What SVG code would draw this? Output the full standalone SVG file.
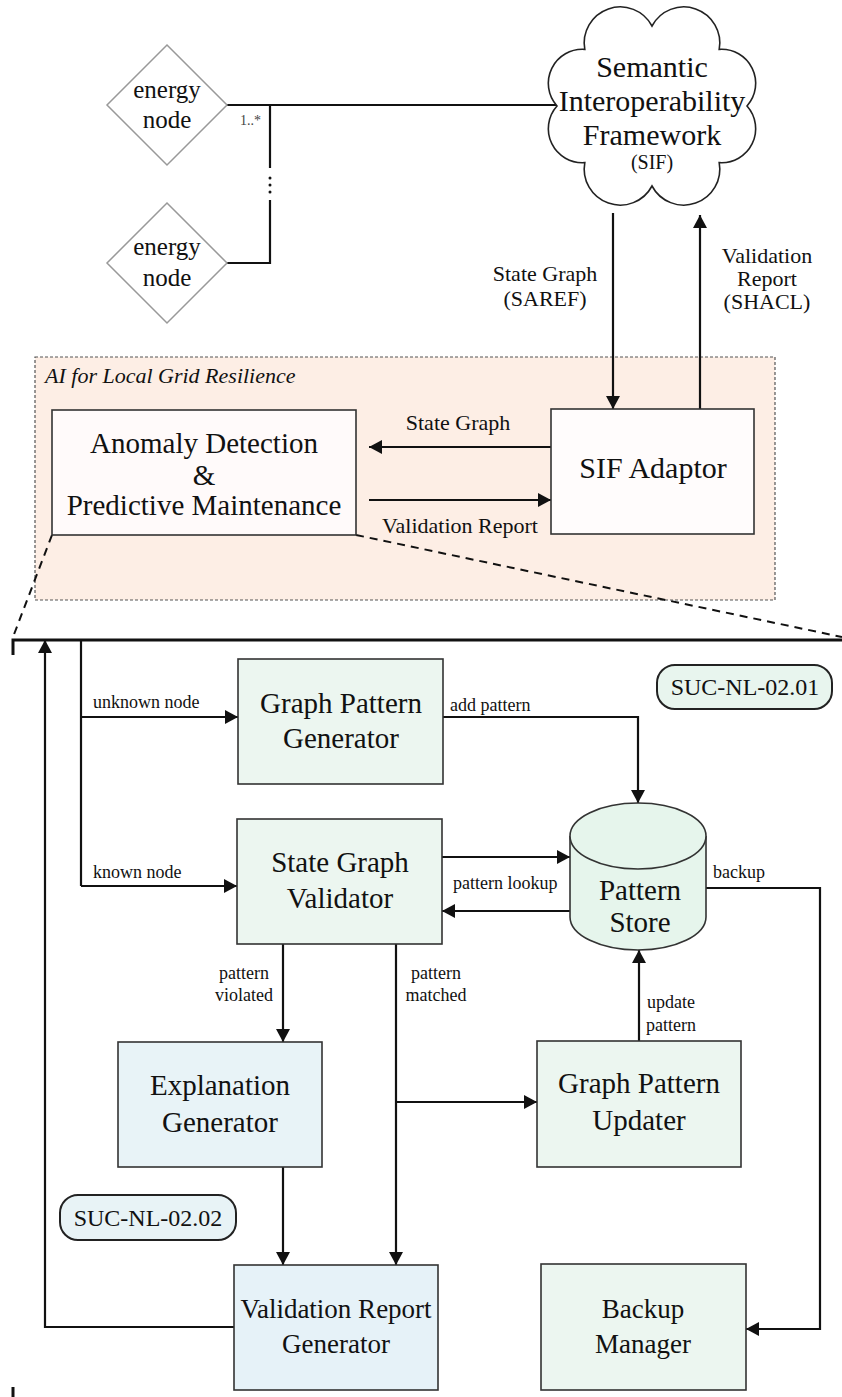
<svg xmlns="http://www.w3.org/2000/svg" width="842" height="1397" viewBox="0 0 842 1397">
<style>
text{font-family:"Liberation Serif","Times New Roman",serif;fill:#111}
.n{font-size:29px;text-anchor:middle}
.m{font-size:27px;text-anchor:middle}
.l{font-size:18px}
.lc{font-size:18px;text-anchor:middle}
.u{font-size:22px;text-anchor:middle}
.c{stroke:#111;stroke-width:2.2;fill:none}
.box{stroke:#333;stroke-width:1.6}
.g{fill:#ecf6f0}
.b{fill:#e8f3f7}
.dz{stroke:#111;stroke-width:2;stroke-dasharray:8 6;fill:none}
</style>
<defs>
<marker id="ah" markerUnits="userSpaceOnUse" markerWidth="14" markerHeight="14" refX="13" refY="7" orient="auto">
<path d="M0,0 L13,7 L0,14 z" fill="#111"/>
</marker>
</defs>

<!-- container -->
<g id="container">
<rect x="35" y="357" width="740" height="243" fill="#fdeee5" stroke="#555" stroke-width="1.2" stroke-dasharray="3 2"/>
<text x="45" y="383" font-size="22" font-style="italic">AI for Local Grid Resilience</text>
</g>

<g id="connectors">
<!-- energy nodes to SIF -->
<path class="c" d="M227,105 H557"/>
<path class="c" d="M270,105 V168"/>
<circle cx="270" cy="178" r="1.5" fill="#111"/>
<circle cx="270" cy="185" r="1.5" fill="#111"/>
<circle cx="270" cy="192" r="1.5" fill="#111"/>
<path class="c" d="M270,200 V263 H227"/>
<text x="240" y="125" font-size="14" style="fill:#444">1..*</text>
<!-- SIF arrows -->
<path class="c" d="M613,213 V409" marker-end="url(#ah)"/>
<path class="c" d="M700,409 V215" marker-end="url(#ah)"/>
<text class="u" x="545" y="281">State Graph</text>
<text class="u" x="545" y="306">(SAREF)</text>
<text class="u" x="767" y="263">Validation</text>
<text class="u" x="767" y="286">Report</text>
<text class="u" x="767" y="309">(SHACL)</text>
<!-- AD <-> SIF -->
<path class="c" d="M551,447 H369" marker-end="url(#ah)"/>
<path class="c" d="M369,500 H551" marker-end="url(#ah)"/>
<text class="u" x="458" y="430">State Graph</text>
<text class="u" x="460" y="533">Validation Report</text>
<!-- zoom lines -->
<path class="dz" d="M52,535 L13,637"/>
<path class="dz" d="M356,535 L842,637"/>
<!-- panel border -->
<path d="M13,655 V640 H842" stroke="#111" stroke-width="3" fill="none"/>
<path d="M13,1387 V1397" stroke="#111" stroke-width="3" fill="none"/>
<!-- lower flows -->
<path class="c" d="M234,1327 H45 V640" marker-end="url(#ah)"/>
<path class="c" d="M81,640 V886"/>
<path class="c" d="M81,717 H238" marker-end="url(#ah)"/>
<path class="c" d="M81,886 H237" marker-end="url(#ah)"/>
<text class="l" x="93" y="708">unknown node</text>
<text class="l" x="93" y="878">known node</text>
<path class="c" d="M443,717 H638 V803" marker-end="url(#ah)"/>
<text class="l" x="450" y="711">add pattern</text>
<path class="c" d="M442,857 H570" marker-end="url(#ah)"/>
<path class="c" d="M570,911 H442" marker-end="url(#ah)"/>
<text class="l" x="453" y="889">pattern lookup</text>
<path class="c" d="M706,888 H820 V1329 H746" marker-end="url(#ah)"/>
<text class="l" x="713" y="878">backup</text>
<path class="c" d="M283,944 V1042" marker-end="url(#ah)"/>
<text class="lc" x="244" y="979">pattern</text>
<text class="lc" x="244" y="1001">violated</text>
<path class="c" d="M396,944 V1265" marker-end="url(#ah)"/>
<path class="c" d="M396,1102 H537" marker-end="url(#ah)"/>
<text class="lc" x="436" y="979">pattern</text>
<text class="lc" x="436" y="1001">matched</text>
<path class="c" d="M639,1041 V950" marker-end="url(#ah)"/>
<text class="lc" x="671" y="1008">update</text>
<text class="lc" x="671" y="1031">pattern</text>
<path class="c" d="M283,1167 V1265" marker-end="url(#ah)"/>
</g>

<g id="energy-node-1">
<path d="M167,45 L227,105 L167,165 L107,105 Z" fill="#fff" stroke="#999" stroke-width="1.5"/>
<text x="167" y="98" font-size="25" text-anchor="middle">energy</text>
<text x="167" y="128" font-size="25" text-anchor="middle">node</text>
</g>
<g id="energy-node-2">
<path d="M167,203 L227,263 L167,323 L107,263 Z" fill="#fff" stroke="#999" stroke-width="1.5"/>
<text x="167" y="255" font-size="25" text-anchor="middle">energy</text>
<text x="167" y="286" font-size="25" text-anchor="middle">node</text>
</g>

<g id="sif">
<path d="M557,106 A34,34 0 0 1 584.8,49.4 A36,36 0 0 1 652,26 A36,36 0 0 1 719.2,49.4 A34,34 0 0 1 747,106 A34,34 0 0 1 719.2,162.6 A36,36 0 0 1 652,186 A36,36 0 0 1 584.8,162.6 A34,34 0 0 1 557,106 Z" fill="#fff" stroke="#222" stroke-width="1.6"/>
<text x="652" y="77" font-size="30" text-anchor="middle">Semantic</text>
<text x="652" y="111" font-size="30" text-anchor="middle">Interoperability</text>
<text x="652" y="145" font-size="30" text-anchor="middle">Framework</text>
<text x="652" y="169" font-size="20" text-anchor="middle">(SIF)</text>
</g>

<g id="anomaly-detection">
<rect class="box" x="52" y="410" width="304" height="125" fill="#fffafa"/>
<text class="n" x="204" y="453">Anomaly Detection</text>
<text class="n" x="204" y="485">&amp;</text>
<text class="n" x="204" y="515">Predictive Maintenance</text>
</g>

<g id="sif-adaptor">
<rect class="box" x="551" y="409" width="203" height="125" fill="#fffcfc"/>
<text x="653" y="478" font-size="30" text-anchor="middle">SIF Adaptor</text>
</g>

<g id="graph-pattern-generator">
<rect class="box g" x="238" y="659" width="205" height="125"/>
<text class="n" x="341" y="713">Graph Pattern</text>
<text class="n" x="341" y="748">Generator</text>
</g>

<g id="suc-01">
<rect x="657" y="665" width="175" height="44" rx="18" fill="#e8f5ee" stroke="#222" stroke-width="2"/>
<text x="745" y="695" font-size="24" text-anchor="middle">SUC-NL-02.01</text>
</g>

<g id="state-graph-validator">
<rect class="box g" x="237" y="819" width="205" height="125"/>
<text class="n" x="340" y="872">State Graph</text>
<text class="n" x="340" y="908">Validator</text>
</g>

<g id="pattern-store">
<path d="M570,836 V917 A68,33 0 0 0 706,917 V836" fill="#e6f5ec" stroke="#333" stroke-width="1.6"/>
<ellipse cx="638" cy="836" rx="68" ry="33" fill="#e6f5ec" stroke="#333" stroke-width="1.6"/>
<text class="n" x="640" y="900">Pattern</text>
<text class="n" x="640" y="932">Store</text>
</g>

<g id="explanation-generator">
<rect class="box b" x="118" y="1042" width="204" height="125"/>
<text class="n" x="220" y="1095">Explanation</text>
<text class="n" x="220" y="1132">Generator</text>
</g>

<g id="graph-pattern-updater">
<rect class="box g" x="537" y="1041" width="204" height="126"/>
<text class="n" x="639" y="1093">Graph Pattern</text>
<text class="n" x="639" y="1130">Updater</text>
</g>

<g id="suc-02">
<rect x="60" y="1195" width="176" height="45" rx="18" fill="#e8f3f6" stroke="#222" stroke-width="2"/>
<text x="148" y="1226" font-size="24" text-anchor="middle">SUC-NL-02.02</text>
</g>

<g id="validation-report-generator">
<rect class="box" x="234" y="1265" width="204" height="125" fill="#e6f2f8"/>
<text class="m" x="336" y="1318">Validation Report</text>
<text class="m" x="336" y="1353">Generator</text>
</g>

<g id="backup-manager">
<rect class="box g" x="541" y="1264" width="205" height="126"/>
<text class="m" x="643" y="1318">Backup</text>
<text class="m" x="643" y="1353">Manager</text>
</g>
</svg>
